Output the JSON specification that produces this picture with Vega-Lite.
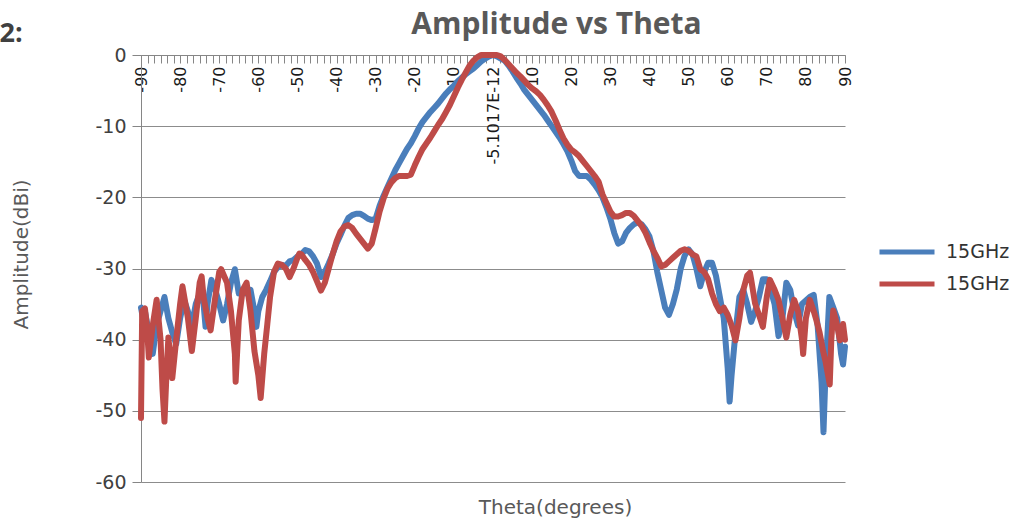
{
  "$schema": "https://vega.github.io/schema/vega-lite/v6.json",
  "autosize": {"type": "none"},
  "padding": {"left": 141, "top": 55, "right": 177, "bottom": 45},
  "width": 704,
  "height": 427,
  "background": "white",
  "config": {"view": {"stroke": null}},
  "datasets": {
    "blue": [
      {"s":"a","t":-90,"v":-35.5},{"s":"a","t":-89.5,"v":-37},{"s":"a","t":-89,"v":-36},{"s":"a","t":-88,"v":-39},{"s":"a","t":-87,"v":-42},{"s":"a","t":-86,"v":-38},{"s":"a","t":-85,"v":-36},{"s":"a","t":-84,"v":-34},{"s":"a","t":-83,"v":-37},{"s":"a","t":-82,"v":-39},{"s":"a","t":-81,"v":-40.6},{"s":"a","t":-80,"v":-37},{"s":"a","t":-79,"v":-34.4},{"s":"a","t":-78,"v":-36},{"s":"a","t":-77,"v":-38},{"s":"a","t":-76,"v":-35},{"s":"a","t":-75,"v":-33.5},{"s":"a","t":-74,"v":-35},{"s":"a","t":-73.5,"v":-38.2},{"s":"a","t":-73,"v":-35},{"s":"a","t":-72,"v":-31.6},{"s":"a","t":-71,"v":-33},{"s":"a","t":-70,"v":-35},{"s":"a","t":-69,"v":-37.3},{"s":"a","t":-68,"v":-35},{"s":"a","t":-67,"v":-32},{"s":"a","t":-66,"v":-30.1},{"s":"a","t":-65,"v":-33.5},{"s":"a","t":-64,"v":-33},{"s":"a","t":-63,"v":-33.5},{"s":"a","t":-62,"v":-33},{"s":"a","t":-61,"v":-36},{"s":"a","t":-60.5,"v":-38.2},{"s":"a","t":-60,"v":-36},{"s":"a","t":-59,"v":-34},{"s":"a","t":-58,"v":-33},{"s":"a","t":-57,"v":-31.8},{"s":"a","t":-56,"v":-30.5},{"s":"a","t":-55,"v":-29.8},{"s":"a","t":-54,"v":-29.5},{"s":"a","t":-53,"v":-29.6},{"s":"a","t":-52,"v":-29},{"s":"a","t":-51,"v":-28.8},{"s":"a","t":-50,"v":-28.3},{"s":"a","t":-49,"v":-28},{"s":"a","t":-48,"v":-27.4},{"s":"a","t":-47,"v":-27.6},{"s":"a","t":-46,"v":-28.3},{"s":"a","t":-45,"v":-29.3},{"s":"a","t":-44,"v":-31.2},{"s":"a","t":-43,"v":-30.5},{"s":"a","t":-42,"v":-29.3},{"s":"a","t":-41,"v":-28},{"s":"a","t":-40,"v":-26.5},{"s":"a","t":-39,"v":-25.3},{"s":"a","t":-38,"v":-24},{"s":"a","t":-37,"v":-22.9},{"s":"a","t":-36,"v":-22.5},{"s":"a","t":-35,"v":-22.3},{"s":"a","t":-34,"v":-22.3},{"s":"a","t":-33,"v":-22.6},{"s":"a","t":-32,"v":-23},{"s":"a","t":-31,"v":-23.2},{"s":"a","t":-30,"v":-23},{"s":"a","t":-29,"v":-21.2},{"s":"a","t":-28,"v":-19.8},{"s":"a","t":-27,"v":-18.6},{"s":"a","t":-26,"v":-17.4},{"s":"a","t":-25,"v":-16.2},{"s":"a","t":-24,"v":-15.2},{"s":"a","t":-23,"v":-14.2},{"s":"a","t":-22,"v":-13.2},{"s":"a","t":-21,"v":-12.4},{"s":"a","t":-20,"v":-11.4},{"s":"a","t":-19,"v":-10.3},{"s":"a","t":-18,"v":-9.4},{"s":"a","t":-17,"v":-8.7},{"s":"a","t":-16,"v":-8},{"s":"a","t":-15,"v":-7.4},{"s":"a","t":-14,"v":-6.8},{"s":"a","t":-13,"v":-6.1},{"s":"a","t":-12,"v":-5.4},{"s":"a","t":-11,"v":-4.8},{"s":"a","t":-10,"v":-4.3},{"s":"a","t":-9,"v":-3.7},{"s":"a","t":-8,"v":-3.2},{"s":"a","t":-7,"v":-2.7},{"s":"a","t":-6,"v":-2.3},{"s":"a","t":-5,"v":-1.9},{"s":"a","t":-4,"v":-1.4},{"s":"a","t":-3,"v":-0.9},{"s":"a","t":-2,"v":-0.5},{"s":"a","t":-1,"v":-0.2},{"s":"a","t":0,"v":0},{"s":"a","t":1,"v":-0.2},{"s":"a","t":2,"v":-0.5},{"s":"a","t":3,"v":-0.8},{"s":"a","t":4,"v":-1.5},{"s":"a","t":5,"v":-2.3},{"s":"a","t":6,"v":-3.2},{"s":"a","t":7,"v":-4},{"s":"a","t":8,"v":-4.9},{"s":"a","t":9,"v":-5.6},{"s":"a","t":10,"v":-6.3},{"s":"a","t":11,"v":-7},{"s":"a","t":12,"v":-7.7},{"s":"a","t":13,"v":-8.4},{"s":"a","t":14,"v":-9.2},{"s":"a","t":15,"v":-10},{"s":"a","t":16,"v":-10.8},{"s":"a","t":17,"v":-11.6},{"s":"a","t":18,"v":-12.5},{"s":"a","t":19,"v":-13.5},{"s":"a","t":20,"v":-14.8},{"s":"a","t":21,"v":-16.3},{"s":"a","t":22,"v":-17},{"s":"a","t":23,"v":-17},{"s":"a","t":24,"v":-17},{"s":"a","t":25,"v":-17.5},{"s":"a","t":26,"v":-18.2},{"s":"a","t":27,"v":-19},{"s":"a","t":28,"v":-20},{"s":"a","t":29,"v":-21.4},{"s":"a","t":30,"v":-23},{"s":"a","t":31,"v":-25},{"s":"a","t":32,"v":-26.5},{"s":"a","t":33,"v":-26.2},{"s":"a","t":34,"v":-25},{"s":"a","t":35,"v":-24.3},{"s":"a","t":36,"v":-23.8},{"s":"a","t":37,"v":-23.5},{"s":"a","t":38,"v":-23.8},{"s":"a","t":39,"v":-24.5},{"s":"a","t":40,"v":-25.5},{"s":"a","t":41,"v":-27.5},{"s":"a","t":42,"v":-30.5},{"s":"a","t":43,"v":-33},{"s":"a","t":44,"v":-35.5},{"s":"a","t":45,"v":-36.5},{"s":"a","t":46,"v":-35},{"s":"a","t":47,"v":-32.9},{"s":"a","t":48,"v":-30},{"s":"a","t":49,"v":-28.2},{"s":"a","t":50,"v":-27.3},{"s":"a","t":51,"v":-28},{"s":"a","t":52,"v":-30},{"s":"a","t":53,"v":-32.5},{"s":"a","t":54,"v":-30.5},{"s":"a","t":55,"v":-29.2},{"s":"a","t":56,"v":-29.2},{"s":"a","t":57,"v":-31},{"s":"a","t":58,"v":-34},{"s":"a","t":59,"v":-37},{"s":"a","t":60,"v":-44},{"s":"a","t":60.5,"v":-48.7},{"s":"a","t":61,"v":-45},{"s":"a","t":62,"v":-39},{"s":"a","t":63,"v":-34},{"s":"a","t":64,"v":-33},{"s":"a","t":65,"v":-35},{"s":"a","t":66,"v":-37.5},{"s":"a","t":67,"v":-36},{"s":"a","t":68,"v":-34},{"s":"a","t":69,"v":-31.5},{"s":"a","t":70,"v":-31.5},{"s":"a","t":71,"v":-33},{"s":"a","t":72,"v":-35},{"s":"a","t":73,"v":-39.5},{"s":"a","t":74,"v":-37},{"s":"a","t":75,"v":-32},{"s":"a","t":76,"v":-33},{"s":"a","t":77,"v":-36},{"s":"a","t":78,"v":-38},{"s":"a","t":79,"v":-35},{"s":"a","t":80,"v":-34.5},{"s":"a","t":81,"v":-34},{"s":"a","t":82,"v":-33.7},{"s":"a","t":83,"v":-38},{"s":"a","t":84,"v":-46},{"s":"a","t":84.5,"v":-53},{"s":"a","t":85,"v":-45},{"s":"a","t":86,"v":-34},{"s":"a","t":87,"v":-35.5},{"s":"a","t":88,"v":-37},{"s":"a","t":89,"v":-42},{"s":"a","t":89.5,"v":-43.5},{"s":"a","t":90,"v":-41}
    ],
    "red": [
      {"s":"b","t":-90,"v":-51},{"s":"b","t":-89.7,"v":-36},{"s":"b","t":-89,"v":-35.6},{"s":"b","t":-88.5,"v":-38},{"s":"b","t":-88,"v":-42.5},{"s":"b","t":-87,"v":-38},{"s":"b","t":-86,"v":-34.4},{"s":"b","t":-85,"v":-40},{"s":"b","t":-84.5,"v":-47},{"s":"b","t":-84,"v":-51.5},{"s":"b","t":-83.5,"v":-45},{"s":"b","t":-83,"v":-39.7},{"s":"b","t":-82,"v":-45.4},{"s":"b","t":-81,"v":-40},{"s":"b","t":-80,"v":-35},{"s":"b","t":-79.4,"v":-32.5},{"s":"b","t":-78,"v":-37},{"s":"b","t":-77,"v":-41.6},{"s":"b","t":-76,"v":-37},{"s":"b","t":-75,"v":-32},{"s":"b","t":-74.5,"v":-31.1},{"s":"b","t":-74,"v":-34},{"s":"b","t":-73,"v":-37},{"s":"b","t":-72.2,"v":-38.7},{"s":"b","t":-71,"v":-34},{"s":"b","t":-70,"v":-30.5},{"s":"b","t":-69.5,"v":-30.1},{"s":"b","t":-68,"v":-32},{"s":"b","t":-67,"v":-36},{"s":"b","t":-66,"v":-42},{"s":"b","t":-65.8,"v":-45.9},{"s":"b","t":-65,"v":-37.3},{"s":"b","t":-64,"v":-33},{"s":"b","t":-63,"v":-32},{"s":"b","t":-62,"v":-36},{"s":"b","t":-61,"v":-41.6},{"s":"b","t":-60,"v":-45},{"s":"b","t":-59.4,"v":-48.2},{"s":"b","t":-58.5,"v":-42},{"s":"b","t":-57.7,"v":-37.8},{"s":"b","t":-57,"v":-34},{"s":"b","t":-56,"v":-30.5},{"s":"b","t":-55,"v":-29.3},{"s":"b","t":-54,"v":-29.5},{"s":"b","t":-53,"v":-30},{"s":"b","t":-52,"v":-31.2},{"s":"b","t":-51,"v":-30},{"s":"b","t":-50,"v":-28.5},{"s":"b","t":-49.5,"v":-27.9},{"s":"b","t":-49,"v":-28},{"s":"b","t":-48,"v":-28.8},{"s":"b","t":-47,"v":-29.5},{"s":"b","t":-46,"v":-30.5},{"s":"b","t":-45,"v":-31.8},{"s":"b","t":-44,"v":-33.1},{"s":"b","t":-43,"v":-32},{"s":"b","t":-42,"v":-30},{"s":"b","t":-41,"v":-28},{"s":"b","t":-40,"v":-26.2},{"s":"b","t":-39,"v":-24.8},{"s":"b","t":-38,"v":-24.1},{"s":"b","t":-37,"v":-23.9},{"s":"b","t":-36,"v":-24.3},{"s":"b","t":-35,"v":-25.1},{"s":"b","t":-34,"v":-25.8},{"s":"b","t":-33,"v":-26.5},{"s":"b","t":-32,"v":-27.2},{"s":"b","t":-31,"v":-26.5},{"s":"b","t":-30,"v":-24.3},{"s":"b","t":-29,"v":-22},{"s":"b","t":-28,"v":-20.2},{"s":"b","t":-27,"v":-18.8},{"s":"b","t":-26,"v":-17.9},{"s":"b","t":-25,"v":-17.3},{"s":"b","t":-24,"v":-17},{"s":"b","t":-23,"v":-17},{"s":"b","t":-22,"v":-17},{"s":"b","t":-21,"v":-16.8},{"s":"b","t":-20,"v":-15.5},{"s":"b","t":-19,"v":-14.3},{"s":"b","t":-18,"v":-13.2},{"s":"b","t":-17,"v":-12.4},{"s":"b","t":-16,"v":-11.6},{"s":"b","t":-15,"v":-10.7},{"s":"b","t":-14,"v":-9.8},{"s":"b","t":-13,"v":-9},{"s":"b","t":-12,"v":-8},{"s":"b","t":-11,"v":-7},{"s":"b","t":-10,"v":-5.8},{"s":"b","t":-9,"v":-4.6},{"s":"b","t":-8,"v":-3.5},{"s":"b","t":-7,"v":-2.5},{"s":"b","t":-6,"v":-1.5},{"s":"b","t":-5,"v":-0.8},{"s":"b","t":-4,"v":-0.3},{"s":"b","t":-3,"v":0},{"s":"b","t":-2,"v":0},{"s":"b","t":-1,"v":0},{"s":"b","t":0,"v":0},{"s":"b","t":1,"v":0},{"s":"b","t":2,"v":-0.2},{"s":"b","t":3,"v":-0.7},{"s":"b","t":4,"v":-1.3},{"s":"b","t":5,"v":-1.9},{"s":"b","t":6,"v":-2.5},{"s":"b","t":7,"v":-3},{"s":"b","t":8,"v":-3.6},{"s":"b","t":9,"v":-4.2},{"s":"b","t":10,"v":-4.7},{"s":"b","t":11,"v":-5.1},{"s":"b","t":12,"v":-5.6},{"s":"b","t":13,"v":-6.3},{"s":"b","t":14,"v":-7.1},{"s":"b","t":15,"v":-8},{"s":"b","t":16,"v":-9.2},{"s":"b","t":17,"v":-10.5},{"s":"b","t":18,"v":-11.7},{"s":"b","t":19,"v":-12.6},{"s":"b","t":20,"v":-13.3},{"s":"b","t":21,"v":-13.7},{"s":"b","t":22,"v":-14.2},{"s":"b","t":23,"v":-14.9},{"s":"b","t":24,"v":-15.6},{"s":"b","t":25,"v":-16.3},{"s":"b","t":26,"v":-17},{"s":"b","t":27,"v":-17.8},{"s":"b","t":28,"v":-19.6},{"s":"b","t":29,"v":-20.8},{"s":"b","t":30,"v":-22},{"s":"b","t":31,"v":-22.7},{"s":"b","t":32,"v":-22.7},{"s":"b","t":33,"v":-22.5},{"s":"b","t":34,"v":-22.2},{"s":"b","t":35,"v":-22.2},{"s":"b","t":36,"v":-22.6},{"s":"b","t":37,"v":-23.3},{"s":"b","t":38,"v":-24},{"s":"b","t":39,"v":-25},{"s":"b","t":40,"v":-26.3},{"s":"b","t":41,"v":-27.5},{"s":"b","t":42,"v":-28.5},{"s":"b","t":43,"v":-29.7},{"s":"b","t":44,"v":-29.5},{"s":"b","t":45,"v":-29},{"s":"b","t":46,"v":-28.5},{"s":"b","t":47,"v":-28},{"s":"b","t":48,"v":-27.5},{"s":"b","t":49,"v":-27.3},{"s":"b","t":50,"v":-27.5},{"s":"b","t":51,"v":-28},{"s":"b","t":52,"v":-28.3},{"s":"b","t":53,"v":-30.1},{"s":"b","t":54,"v":-30.5},{"s":"b","t":55,"v":-31.5},{"s":"b","t":56,"v":-33.5},{"s":"b","t":57,"v":-35},{"s":"b","t":58,"v":-36},{"s":"b","t":59,"v":-35.5},{"s":"b","t":60,"v":-36.5},{"s":"b","t":61,"v":-38},{"s":"b","t":62,"v":-40.1},{"s":"b","t":63,"v":-37},{"s":"b","t":64,"v":-33},{"s":"b","t":65,"v":-31},{"s":"b","t":65.7,"v":-30.6},{"s":"b","t":66,"v":-31.5},{"s":"b","t":67,"v":-34.9},{"s":"b","t":68,"v":-36.5},{"s":"b","t":69,"v":-38.2},{"s":"b","t":70,"v":-34},{"s":"b","t":70.8,"v":-31.6},{"s":"b","t":72,"v":-33},{"s":"b","t":73,"v":-34.4},{"s":"b","t":74,"v":-37},{"s":"b","t":75,"v":-39.7},{"s":"b","t":76,"v":-36.5},{"s":"b","t":77,"v":-34.4},{"s":"b","t":78,"v":-36},{"s":"b","t":79,"v":-40},{"s":"b","t":79.3,"v":-42},{"s":"b","t":80,"v":-37},{"s":"b","t":81,"v":-34.4},{"s":"b","t":82,"v":-36},{"s":"b","t":82.7,"v":-37.3},{"s":"b","t":83.5,"v":-39},{"s":"b","t":84.4,"v":-41.6},{"s":"b","t":85,"v":-43},{"s":"b","t":86.1,"v":-46.3},{"s":"b","t":86.5,"v":-40},{"s":"b","t":87,"v":-35.9},{"s":"b","t":88,"v":-38},{"s":"b","t":88.7,"v":-40.1},{"s":"b","t":89.5,"v":-37.8},{"s":"b","t":90,"v":-40}
    ]
  },
  "layer": [
    {
      "data": {"name": "blue"},
      "mark": {"type": "line", "strokeWidth": 6, "strokeJoin": "round", "strokeCap": "round"},
      "encoding": {
        "x": {
          "field": "t", "type": "quantitative",
          "scale": {"domain": [-90, 90], "nice": false, "zero": false},
          "axis": {
            "orient": "bottom", "offset": -427,
            "values": [-90,-88.3333,-86.6667,-85,-83.3333,-81.6667,-80,-78.3333,-76.6667,-75,-73.3333,-71.6667,-70,-68.3333,-66.6667,-65,-63.3333,-61.6667,-60,-58.3333,-56.6667,-55,-53.3333,-51.6667,-50,-48.3333,-46.6667,-45,-43.3333,-41.6667,-40,-38.3333,-36.6667,-35,-33.3333,-31.6667,-30,-28.3333,-26.6667,-25,-23.3333,-21.6667,-20,-18.3333,-16.6667,-15,-13.3333,-11.6667,-10,-8.3333,-6.6667,-5,-3.3333,-1.6667,0,1.6667,3.3333,5,6.6667,8.3333,10,11.6667,13.3333,15,16.6667,18.3333,20,21.6667,23.3333,25,26.6667,28.3333,30,31.6667,33.3333,35,36.6667,38.3333,40,41.6667,43.3333,45,46.6667,48.3333,50,51.6667,53.3333,55,56.6667,58.3333,60,61.6667,63.3333,65,66.6667,68.3333,70,71.6667,73.3333,75,76.6667,78.3333,80,81.6667,83.3333,85,86.6667,88.3333,90],
            "labelExpr": "abs(datum.value) < 0.01 ? '-5.1017E-12' : ((abs(datum.value - round(datum.value)) < 0.01 && round(datum.value) % 10 == 0) ? '' + round(datum.value) : '')",
            "labelAngle": 270, "labelAlign": "right", "labelBaseline": "middle",
            "labelOverlap": false, "labelFlush": false, "labelBound": false,
            "labelFont": "DejaVu Sans", "labelFontSize": 16, "labelColor": "#1a1a1a", "labelPadding": 3,
            "tickSize": 8, "tickColor": "#868686", "tickWidth": 1,
            "domainColor": "#868686", "domainWidth": 1, "grid": false,
            "title": "Theta(degrees)", "titleX": 414, "titleY": 452,
            "titleAlign": "center", "titleBaseline": "middle", "titleAnchor": null,
            "titleFont": "DejaVu Sans", "titleFontSize": 20, "titleFontWeight": "normal", "titleColor": "#595959"
          }
        },
        "y": {
          "field": "v", "type": "quantitative",
          "scale": {"domain": [-60, 0], "nice": false, "zero": false},
          "axis": {
            "orient": "left",
            "values": [0, -10, -20, -30, -40, -50, -60],
            "labelExpr": "'' + datum.value",
            "labelFont": "DejaVu Sans", "labelFontSize": 19, "labelColor": "#404040", "labelPadding": 6,
            "tickSize": 9, "tickColor": "#868686",
            "domainColor": "#868686", "domainWidth": 1,
            "grid": true, "gridColor": "#8c8c8c", "gridWidth": 1,
            "title": "Amplitude(dBi)", "titleX": -120, "titleY": 199, "titleAngle": -90,
            "titleAlign": "center", "titleBaseline": "middle", "titleAnchor": null,
            "titleFont": "DejaVu Sans", "titleFontSize": 20, "titleFontWeight": "normal", "titleColor": "#595959"
          }
        },
        "color": {
          "field": "s", "type": "nominal",
          "scale": {"domain": ["a", "b"], "range": ["#4A7EBB", "#BE4B48"]},
          "legend": {
            "orient": "none", "legendX": 747, "legendY": 178, "title": null,
            "symbolType": "M-1.667,0H1.667", "symbolSize": 1089, "symbolStrokeWidth": 5,
            "labelExpr": "'15GHz'", "labelFont": "DejaVu Sans", "labelFontSize": 19, "labelColor": "#333333",
            "labelOffset": 20, "rowPadding": 3
          }
        }
      }
    },
    {
      "data": {"name": "red"},
      "mark": {"type": "line", "strokeWidth": 6, "strokeJoin": "round", "strokeCap": "round"},
      "encoding": {
        "x": {
          "field": "t", "type": "quantitative",
          "axis": {
            "orient": "top", "labels": false, "ticks": false, "domain": false, "grid": false,
            "title": "Amplitude vs Theta", "titleX": 415, "titleY": -22,
            "titleAlign": "center", "titleBaseline": "alphabetic", "titleAnchor": null,
            "titleFont": "Open Sans", "titleFontSize": 30, "titleFontWeight": "bold", "titleColor": "#595959"
          }
        },
        "y": {
          "field": "v", "type": "quantitative",
          "axis": {
            "orient": "right", "labels": false, "ticks": false, "domain": false, "grid": false,
            "title": "2:", "titleX": -846, "titleY": -14, "titleAngle": 0,
            "titleAlign": "left", "titleBaseline": "alphabetic", "titleAnchor": null,
            "titleFont": "Open Sans", "titleFontSize": 27, "titleFontWeight": "bold", "titleColor": "#404040"
          }
        },
        "color": {"field": "s", "type": "nominal"}
      }
    }
  ],
  "resolve": {"axis": {"x": "independent", "y": "independent"}}
}
